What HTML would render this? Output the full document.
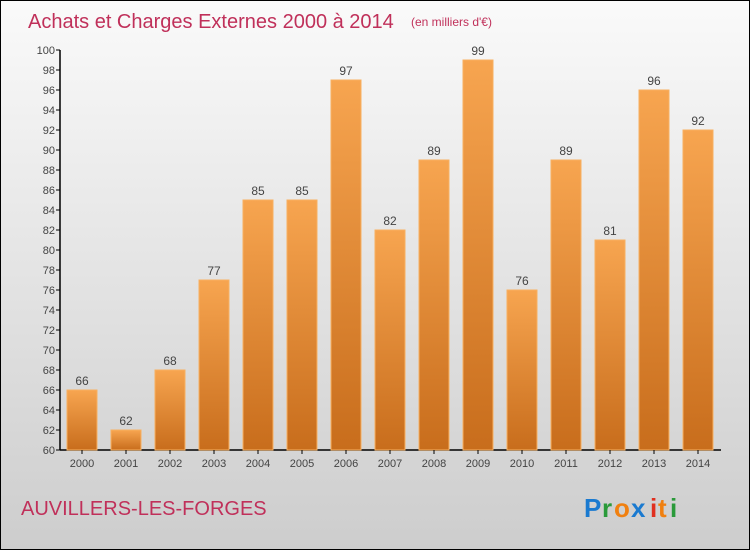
<!DOCTYPE html>
<html><head><meta charset="utf-8"><style>
body{margin:0;width:750px;height:550px;overflow:hidden}
#wrap{position:relative;width:748px;height:548px;border:1px solid #000;background:linear-gradient(#fafafa,#cdcdcd)}
text{font-family:"Liberation Sans",sans-serif}
</style></head><body>
<div id="wrap">
<svg id="chart" width="748" height="548">
<defs><linearGradient id="bg" x1="0" y1="0" x2="0" y2="1"><stop offset="0" stop-color="#f7a550"/><stop offset="1" stop-color="#c86d1c"/></linearGradient></defs>
<text x="27" y="27" font-size="20" fill="#c0305a">Achats et Charges Externes 2000 à 2014</text>
<text x="410" y="25" font-size="12" fill="#c0305a">(en milliers d'€)</text>
<text x="20" y="514" font-size="20" fill="#c0305a">AUVILLERS-LES-FORGES</text>
<g font-size="26" font-weight="bold"><text x="583" y="516" fill="#1a7ad0">P</text><text x="601" y="516" fill="#2a9a3a">r</text><text x="613" y="516" fill="#f08010">o</text><text x="630" y="516" fill="#1a7ad0">x</text><text x="649" y="516" fill="#e03020">i</text><text x="657" y="516" fill="#f08010">t</text><text x="669" y="516" fill="#2a9a3a">i</text></g>
<g id="plot"></g>
</svg></div>
<script>
const years=["2000","2001","2002","2003","2004","2005","2006","2007","2008","2009","2010","2011","2012","2013","2014"];
const values=[66,62,68,77,85,85,97,82,89,99,76,89,81,96,92];
const yTicks=[60,62,64,66,68,70,72,74,76,78,80,82,84,86,88,90,92,94,96,98,100];
const NS="http://www.w3.org/2000/svg";
const g=document.getElementById('plot');
const y=v=>449-(v-60)*10;
const x=i=>81+i*44;
function mk(t,a){const e=document.createElementNS(NS,t);for(const k in a)e.setAttribute(k,a[k]);g.appendChild(e);return e;}
let ax=mk('line',{x1:59,y1:449,x2:59,y2:49,stroke:'#000','stroke-width':1.5});


let bx=mk('line',{x1:59,y1:449,x2:720,y2:449,stroke:'#000','stroke-width':1.5});


yTicks.forEach(t=>{
 mk('line',{x1:55,x2:59,y1:y(t),y2:y(t),stroke:'#000'});
 const l=mk('text',{x:54,y:y(t)+4,'text-anchor':'end','font-size':11,fill:'#444'});l.textContent=t;
 
 
});
years.forEach((yr,i)=>{
 const v=values[i];
 const r=mk('rect',{x:x(i)-15,y:y(v),width:30,height:449-y(v),fill:'url(#bg)',stroke:'#f8b060','stroke-width':1});
 
 
 const lv=mk('text',{x:x(i),y:y(v)-5,'text-anchor':'middle','font-size':12,fill:'#444'});lv.textContent=v;
 
 
 mk('line',{x1:x(i),x2:x(i),y1:449,y2:453,stroke:'#000'});
 const lx=mk('text',{x:x(i),y:466,'text-anchor':'middle','font-size':11,fill:'#444'});lx.textContent=yr;
 
 
});
</script>
</body></html>
